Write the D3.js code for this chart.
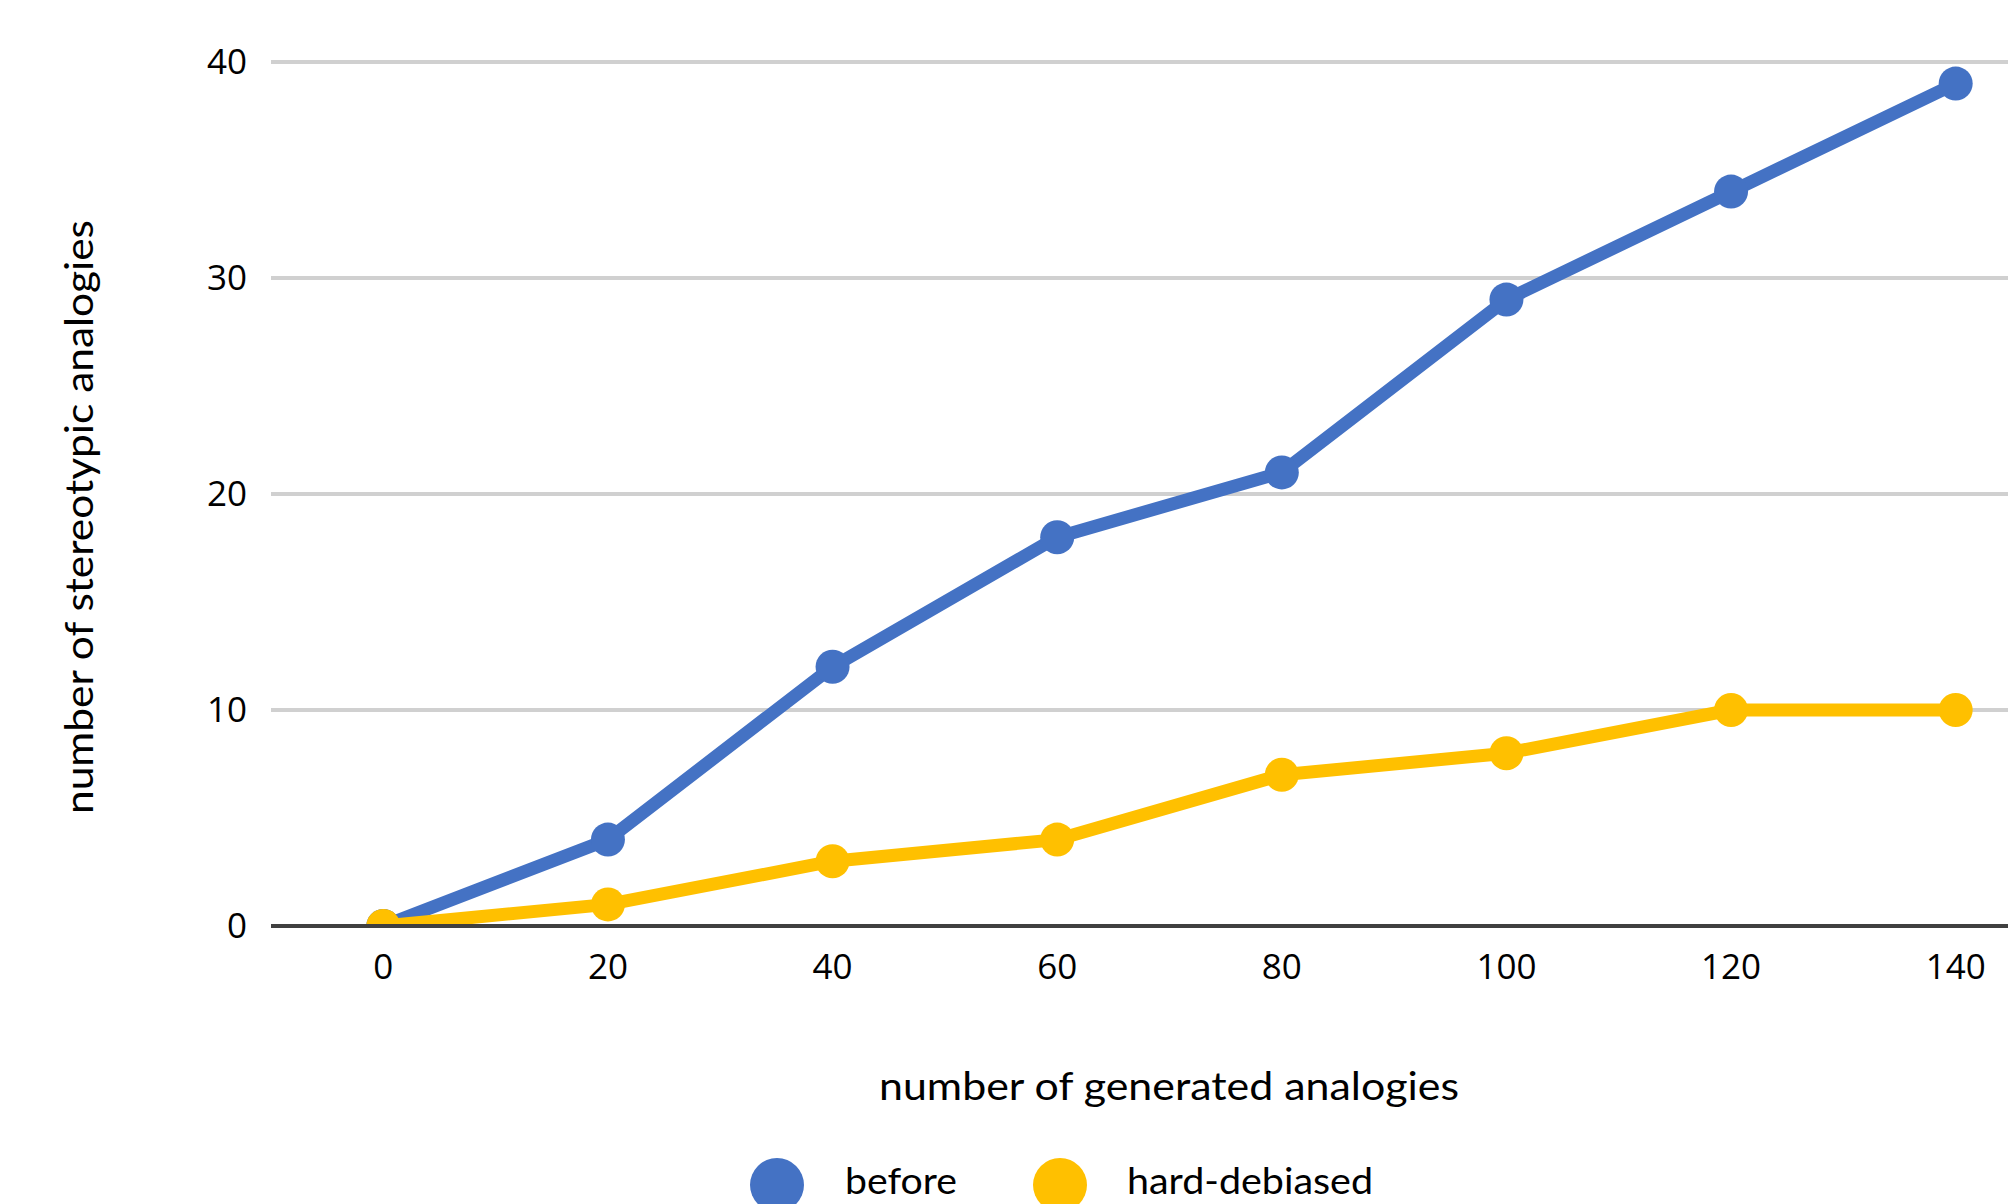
<!DOCTYPE html>
<html><head><meta charset="utf-8">
<script src="https://cdn.jsdelivr.net/npm/d3@7"></script>
<style>html,body{margin:0;padding:0;background:#fff;overflow:hidden}</style>
</head><body>
<svg id="chart" width="2008" height="1204"></svg>
<script>
const categories = [0, 20, 40, 60, 80, 100, 120, 140];
const before = [0, 4, 12, 18, 21, 29, 34, 39];
const hardDebiased = [0, 1, 3, 4, 7, 8, 10, 10];
const yTicks = [0, 10, 20, 30, 40];
const seriesNames = ["before", "hard-debiased"];
const seriesColors = ["#4472C4", "#FFC000"];

(function () {
const svg = d3.select("#chart");
const pLeft = 271, pRight = 2068, pTop = 62, pBottom = 926;

const x = d3.scalePoint().domain(categories).range([pLeft, pRight]).padding(0.5);
const y = d3.scaleLinear().domain([0, 40]).range([pBottom, pTop]);

// gridlines
svg.append("g").selectAll("line").data(yTicks.filter(d => d !== 0)).join("line")
  .attr("x1", pLeft).attr("x2", 2008)
  .attr("y1", d => y(d)).attr("y2", d => y(d))
  .attr("stroke", "#D0D0D0").attr("stroke-width", 4);

// y tick labels
svg.append("g").selectAll("text").data(yTicks).join("text")
  .attr("x", 247).attr("y", d => y(d)).attr("dy", "0.35em")
  .attr("text-anchor", "end")
  .attr("font-family", "Open Sans").attr("font-size", 35).attr("fill", "#000")
  .text(d => d);

// x tick labels
svg.append("g").selectAll("text").data(categories).join("text")
  .attr("x", d => x(d)).attr("y", 967).attr("dy", "0.35em")
  .attr("text-anchor", "middle")
  .attr("font-family", "Open Sans").attr("font-size", 35).attr("fill", "#000")
  .text(d => d);

// clip
svg.append("clipPath").attr("id", "plotclip").append("rect")
  .attr("x", pLeft).attr("y", 0).attr("width", 2008 - pLeft).attr("height", pBottom - 2);

const series = [before, hardDebiased];
const line = d3.line().x((d, i) => x(categories[i])).y(d => y(d));
const plot = svg.append("g").attr("clip-path", "url(#plotclip)");
series.forEach((vals, si) => {
  const g = plot.append("g");
  g.append("path").datum(vals).attr("d", line)
    .attr("fill", "none").attr("stroke", seriesColors[si]).attr("stroke-width", 13)
    .attr("stroke-linejoin", "round");
  g.selectAll("circle").data(vals).join("circle")
    .attr("cx", (d, i) => x(categories[i])).attr("cy", d => y(d)).attr("r", 17)
    .attr("fill", seriesColors[si]);
});

// x axis line
svg.append("line").attr("x1", pLeft).attr("x2", 2008).attr("y1", pBottom).attr("y2", pBottom)
  .attr("stroke", "#404040").attr("stroke-width", 4);

// axis titles
svg.append("text").attr("x", 1169).attr("y", 1087).attr("dy", "0.35em")
  .attr("text-anchor", "middle").attr("font-family", "Lato").attr("font-size", 38)
  .attr("textLength", 580).attr("lengthAdjust", "spacingAndGlyphs")
  .text("number of generated analogies");

svg.append("text").attr("transform", "translate(80,517) rotate(-90)").attr("dy", "0.35em")
  .attr("text-anchor", "middle").attr("font-family", "Lato").attr("font-size", 38)
  .attr("textLength", 594).attr("lengthAdjust", "spacingAndGlyphs")
  .text("number of stereotypic analogies");

// legend
const legX = [777, 1060];
const legTextX = [845, 1127];
const legW = [112, 246];
seriesNames.forEach((n, i) => {
  svg.append("circle").attr("cx", legX[i]).attr("cy", 1185).attr("r", 27).attr("fill", seriesColors[i]);
  svg.append("text").attr("x", legTextX[i]).attr("y", 1181).attr("dy", "0.35em")
    .attr("font-family", "Lato").attr("font-size", 37)
    .attr("textLength", legW[i]).attr("lengthAdjust", "spacingAndGlyphs")
    .text(n);
});
})();
</script>
</body></html>
